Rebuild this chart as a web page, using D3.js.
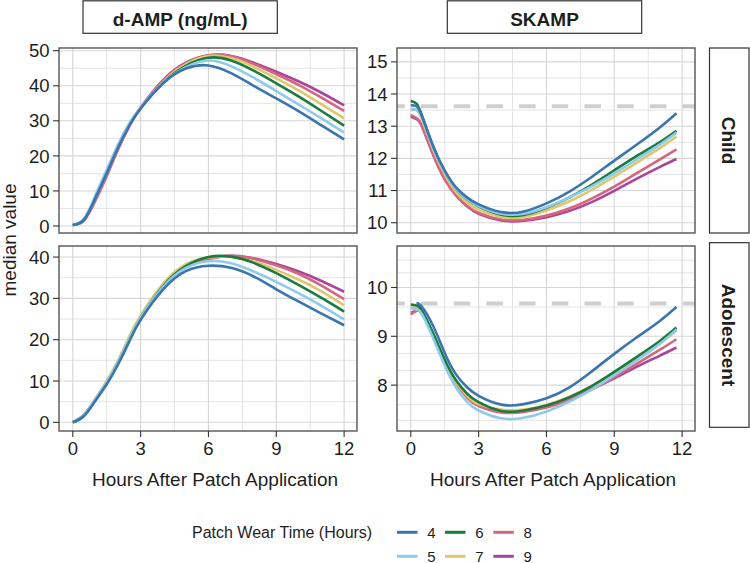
<!DOCTYPE html>
<html>
<head>
<meta charset="utf-8">
<script src="https://cdn.jsdelivr.net/npm/d3@7"></script>
<style>
  html, body { margin: 0; padding: 0; background: #ffffff; }
  svg { display: block; font-family: "Liberation Sans", Arial, Helvetica, sans-serif; }
</style>
</head>
<body>
<script>
// ---------------- DATA ----------------
const wearTimes = ["4", "5", "6", "7", "8", "9"];
const wearColors = ["#3b75af", "#8ecbea", "#1b7a3e", "#dfc76f", "#d6657e", "#a8469c"];

const hoursDamp  = [0, 0.5, 1, 1.5, 2, 2.5, 3, 4, 5, 6, 7, 8, 9, 10, 11, 12];
const hoursSkamp = [0, 0.25, 0.5, 1, 1.5, 2, 2.5, 3, 4, 5, 6, 7, 8, 9, 10, 11, 11.75];

const xTicks = [0, 3, 6, 9, 12];
const xMinor = [1.5, 4.5, 7.5, 10.5];

// d-AMP (ng/mL), Child
const dampChild4 = [0.3, 1.8, 8.0, 15.0, 22.3, 28.6, 33.5, 40.7, 44.9, 45.8, 43.6, 40.0, 36.4, 32.7, 28.7, 24.7];
const dampChild5 = [0.3, 2.1, 8.8, 16.0, 23.2, 29.3, 33.8, 40.8, 45.3, 47.2, 45.6, 42.3, 38.5, 34.6, 30.7, 26.7];
const dampChild6 = [0.3, 1.9, 8.2, 15.3, 22.6, 28.9, 33.6, 40.9, 45.7, 48.0, 47.2, 44.3, 40.7, 36.9, 32.8, 28.6];
const dampChild7 = [0.3, 1.9, 8.0, 15.0, 22.3, 28.8, 33.7, 41.2, 46.2, 48.5, 47.9, 45.4, 42.1, 38.6, 34.7, 30.7];
const dampChild8 = [0.3, 1.6, 7.2, 14.2, 21.8, 28.5, 33.7, 41.5, 46.4, 48.6, 48.4, 46.2, 43.3, 40.2, 36.6, 32.8];
const dampChild9 = [0.3, 1.7, 7.5, 14.6, 22.0, 28.6, 33.8, 41.7, 46.6, 48.7, 48.5, 46.6, 44.0, 41.2, 38.0, 34.4];

// d-AMP (ng/mL), Adolescent
const dampAdol4 = [0, 1.6, 5.2, 9.2, 14.0, 19.6, 24.8, 32.2, 36.6, 37.9, 37.4, 35.3, 32.2, 29.2, 26.3, 23.5];
const dampAdol5 = [0, 1.8, 5.6, 9.7, 14.6, 20.2, 25.3, 32.8, 37.4, 39.0, 38.5, 36.5, 34.0, 31.2, 28.2, 24.9];
const dampAdol6 = [0, 1.6, 5.4, 9.5, 14.4, 20.0, 25.2, 33.0, 37.8, 40.0, 40.1, 38.6, 36.1, 33.2, 30.1, 26.8];
const dampAdol7 = [0, 1.8, 5.7, 10.0, 15.0, 20.8, 25.9, 33.6, 38.3, 39.9, 40.0, 38.9, 36.9, 34.5, 31.7, 28.3];
const dampAdol8 = [0, 1.9, 5.6, 9.7, 14.6, 20.3, 25.5, 33.2, 38.0, 39.7, 40.3, 39.6, 38.0, 35.9, 33.1, 29.8];
const dampAdol9 = [0, 1.8, 5.5, 9.6, 14.5, 20.2, 25.4, 33.1, 37.9, 39.6, 40.3, 39.7, 38.3, 36.5, 34.2, 31.6];

// SKAMP, Child
const skampChild4 = [13.65, 13.62, 13.3, 12.35, 11.62, 11.1, 10.78, 10.57, 10.33, 10.35, 10.6, 10.96, 11.42, 11.93, 12.43, 12.95, 13.4];
const skampChild5 = [13.5, 13.52, 13.25, 12.3, 11.58, 11.05, 10.73, 10.52, 10.28, 10.28, 10.48, 10.78, 11.13, 11.53, 11.97, 12.42, 12.8];
const skampChild6 = [13.78, 13.7, 13.32, 12.35, 11.6, 11.05, 10.72, 10.5, 10.25, 10.24, 10.46, 10.78, 11.18, 11.63, 12.08, 12.5, 12.86];
const skampChild7 = [13.55, 13.5, 13.2, 12.25, 11.5, 10.95, 10.62, 10.4, 10.18, 10.18, 10.38, 10.66, 11.02, 11.43, 11.87, 12.31, 12.68];
const skampChild8 = [13.35, 13.25, 13.0, 12.1, 11.35, 10.85, 10.52, 10.3, 10.1, 10.09, 10.22, 10.44, 10.75, 11.12, 11.54, 11.96, 12.28];
const skampChild9 = [13.3, 13.22, 12.98, 12.1, 11.36, 10.85, 10.5, 10.28, 10.07, 10.06, 10.17, 10.36, 10.64, 10.99, 11.37, 11.73, 11.98];

// SKAMP, Adolescent
const skampAdol4 = [null, 9.68, 9.6, 9.2, 8.66, 8.22, 7.95, 7.78, 7.6, 7.61, 7.73, 7.95, 8.28, 8.64, 8.98, 9.31, 9.6];
const skampAdol5 = [9.58, 9.55, 9.45, 8.95, 8.4, 7.95, 7.65, 7.48, 7.32, 7.33, 7.46, 7.66, 7.91, 8.2, 8.51, 8.84, 9.14];
const skampAdol6 = [9.65, 9.63, 9.52, 9.05, 8.52, 8.1, 7.82, 7.65, 7.47, 7.48, 7.58, 7.75, 7.98, 8.27, 8.58, 8.9, 9.18];
const skampAdol7 = [9.6, 9.58, 9.48, 9.02, 8.48, 8.06, 7.78, 7.61, 7.5, 7.5, 7.6, 7.76, 7.98, 8.24, 8.53, 8.85, 9.12];
const skampAdol8 = [9.45, 9.52, 9.46, 9.0, 8.46, 8.03, 7.74, 7.57, 7.44, 7.45, 7.54, 7.7, 7.91, 8.16, 8.44, 8.72, 8.94];
const skampAdol9 = [9.48, 9.53, 9.48, 9.02, 8.5, 8.06, 7.76, 7.59, 7.46, 7.47, 7.56, 7.72, 7.92, 8.14, 8.38, 8.6, 8.77];

// axis ticks / gridline values
const yTicksDampChild = [0, 10, 20, 30, 40, 50];
const yMinorDampChild = [5, 15, 25, 35, 45];
const yTicksDampAdol  = [0, 10, 20, 30, 40];
const yMinorDampAdol  = [5, 15, 25, 35];
const yTicksSkampChild = [10, 11, 12, 13, 14, 15];
const yMinorSkampChild = [10.5, 11.5, 12.5, 13.5, 14.5];
const yTicksSkampAdol  = [8, 9, 10];
const yMinorSkampAdol  = [7.28, 7.6, 8.3, 8.65, 9.6, 10.3, 10.56];

// dashed reference (baseline) levels for SKAMP
const refSkampChild = 13.62;
const refSkampAdol = 9.67;

const colTitles = ["d-AMP (ng/mL)", "SKAMP"];
const rowTitles = ["Child", "Adolescent"];
const xTitle = "Hours After Patch Application";
const yTitle = "median value";
const legendTitle = "Patch Wear Time (Hours)";

// ---------------- LAYOUT ----------------
const W = 750, H = 563;
const svg = d3.select("body").append("svg").attr("width", W).attr("height", H);
svg.append("rect").attr("width", W).attr("height", H).attr("fill", "#ffffff");

const PW = 298, PH = 185;
const panels = [
  { id: "p1", x: 59,  y: 48,  yDomain: [-2.0, 50.77], yTicks: yTicksDampChild, yMinor: yMinorDampChild, times: hoursDamp,
    series: [dampChild4, dampChild5, dampChild6, dampChild7, dampChild8, dampChild9], ref: null, bottom: false },
  { id: "p2", x: 397, y: 48,  yDomain: [9.68, 15.43], yTicks: yTicksSkampChild, yMinor: yMinorSkampChild, times: hoursSkamp,
    series: [skampChild4, skampChild5, skampChild6, skampChild7, skampChild8, skampChild9], ref: refSkampChild, bottom: false },
  { id: "p3", x: 59,  y: 246, yDomain: [-2.1, 42.68], yTicks: yTicksDampAdol, yMinor: yMinorDampAdol, times: hoursDamp,
    series: [dampAdol4, dampAdol5, dampAdol6, dampAdol7, dampAdol8, dampAdol9], ref: null, bottom: true },
  { id: "p4", x: 397, y: 246, yDomain: [7.06, 10.85], yTicks: yTicksSkampAdol, yMinor: yMinorSkampAdol, times: hoursSkamp,
    series: [skampAdol4, skampAdol5, skampAdol6, skampAdol7, skampAdol8, skampAdol9], ref: refSkampAdol, bottom: true }
];

const tickFont = 18.5;
const textColor = "#1e1e1e";

panels.forEach(p => {
  const x = d3.scaleLinear().domain([-0.61, 12.57]).range([p.x, p.x + PW]);
  const y = d3.scaleLinear().domain(p.yDomain).range([p.y + PH, p.y]);
  const g = svg.append("g");

  g.append("clipPath").attr("id", "clip-" + p.id)
    .append("rect").attr("x", p.x).attr("y", p.y).attr("width", PW).attr("height", PH);

  g.append("rect").attr("x", p.x).attr("y", p.y).attr("width", PW).attr("height", PH).attr("fill", "#ffffff");

  // minor grid
  g.selectAll(".vmin").data(xMinor).join("line")
    .attr("x1", d => x(d)).attr("x2", d => x(d)).attr("y1", p.y).attr("y2", p.y + PH)
    .attr("stroke", "#e4e4e4").attr("stroke-width", 1);
  g.selectAll(".hmin").data(p.yMinor).join("line")
    .attr("x1", p.x).attr("x2", p.x + PW).attr("y1", d => y(d)).attr("y2", d => y(d))
    .attr("stroke", "#e4e4e4").attr("stroke-width", 1);
  // major grid
  g.selectAll(".vmaj").data(xTicks).join("line")
    .attr("x1", d => x(d)).attr("x2", d => x(d)).attr("y1", p.y).attr("y2", p.y + PH)
    .attr("stroke", "#d6d6d6").attr("stroke-width", 1.1);
  g.selectAll(".hmaj").data(p.yTicks).join("line")
    .attr("x1", p.x).attr("x2", p.x + PW).attr("y1", d => y(d)).attr("y2", d => y(d))
    .attr("stroke", "#d6d6d6").attr("stroke-width", 1.1);

  // dashed reference line
  if (p.ref != null) {
    g.append("line")
      .attr("x1", p.x).attr("x2", p.x + PW).attr("y1", y(p.ref)).attr("y2", y(p.ref))
      .attr("stroke", "#cfcfcf").attr("stroke-width", 4)
      .attr("stroke-dasharray", "16.5,16.2").attr("stroke-dashoffset", 8.7)
      .attr("clip-path", "url(#clip-" + p.id + ")");
  }

  // series lines (drawn 9 -> 4 so 4 ends on top)
  const line = d3.line()
    .defined(d => d[1] != null)
    .x(d => x(d[0])).y(d => y(d[1]))
    .curve(d3.curveNatural);
  const order = d3.range(p.series.length).reverse();
  const lg = g.append("g").attr("clip-path", "url(#clip-" + p.id + ")");
  order.forEach(i => {
    const pts = p.times.map((t, k) => [t, p.series[i][k]]);
    lg.append("path").attr("d", line(pts))
      .attr("fill", "none").attr("stroke", wearColors[i])
      .attr("stroke-width", 2.6).attr("stroke-linejoin", "round").attr("stroke-linecap", "butt");
  });

  // border
  g.append("rect").attr("x", p.x).attr("y", p.y).attr("width", PW).attr("height", PH)
    .attr("fill", "none").attr("stroke", "#555555").attr("stroke-width", 1.4);

  // y axis ticks + labels
  g.selectAll(".yt").data(p.yTicks).join("line")
    .attr("x1", p.x - 6).attr("x2", p.x).attr("y1", d => y(d)).attr("y2", d => y(d))
    .attr("stroke", "#333333").attr("stroke-width", 1.1);
  g.selectAll(".yl").data(p.yTicks).join("text")
    .attr("x", p.x - 9.5).attr("y", d => y(d)).attr("dy", "0.36em")
    .attr("text-anchor", "end").attr("font-size", tickFont).attr("fill", textColor)
    .text(d => d);

  // x axis on bottom row
  if (p.bottom) {
    g.selectAll(".xt").data(xTicks).join("line")
      .attr("x1", d => x(d)).attr("x2", d => x(d)).attr("y1", p.y + PH).attr("y2", p.y + PH + 6)
      .attr("stroke", "#333333").attr("stroke-width", 1.1);
    g.selectAll(".xl").data(xTicks).join("text")
      .attr("x", d => x(d)).attr("y", 455)
      .attr("text-anchor", "middle").attr("font-size", tickFont).attr("fill", textColor)
      .text(d => d);
    g.append("text").attr("x", p.x + PW / 2 + 7).attr("y", 486)
      .attr("text-anchor", "middle").attr("font-size", 19).attr("fill", textColor)
      .text(xTitle);
  }
});

// column strips
const colStrips = [{ x: 83, w: 194.3 }, { x: 447.3, w: 194.4 }];
colStrips.forEach((s, i) => {
  svg.append("rect").attr("x", s.x).attr("y", 0.8).attr("width", s.w).attr("height", 32.5)
    .attr("fill", "#ffffff").attr("stroke", "#333333").attr("stroke-width", 1.2);
  svg.append("text").attr("x", s.x + s.w / 2).attr("y", 26)
    .attr("text-anchor", "middle").attr("font-size", 19).attr("font-weight", "bold").attr("fill", textColor)
    .text(colTitles[i]);
});

// row strips
const rowStrips = [{ y: 48, h: 185 }, { y: 242.7, h: 184.6 }];
rowStrips.forEach((s, i) => {
  svg.append("rect").attr("x", 709.5).attr("y", s.y).attr("width", 39.5).attr("height", s.h)
    .attr("fill", "#ffffff").attr("stroke", "#333333").attr("stroke-width", 1.2);
  svg.append("text").attr("transform", `translate(722,${s.y + s.h / 2}) rotate(90)`)
    .attr("text-anchor", "middle").attr("font-size", 19).attr("font-weight", "bold").attr("fill", textColor)
    .text(rowTitles[i]);
});

// y axis title
svg.append("text").attr("transform", "translate(16,240) rotate(-90)")
  .attr("text-anchor", "middle").attr("font-size", 19).attr("fill", textColor)
  .text(yTitle);

// legend
svg.append("text").attr("x", 192).attr("y", 537.5)
  .attr("font-size", 16).attr("fill", textColor).text(legendTitle);
const legX = [397, 445, 493.3];
const legY = [532.3, 556.3];
wearTimes.forEach((w, i) => {
  const col = Math.floor(i / 2), row = i % 2;
  const lx = legX[col], ly = legY[row];
  svg.append("line").attr("x1", lx).attr("x2", lx + 20.5).attr("y1", ly).attr("y2", ly)
    .attr("stroke", wearColors[i]).attr("stroke-width", 3);
  svg.append("text").attr("x", lx + 30.3).attr("y", ly + 5.2)
    .attr("font-size", 15).attr("fill", textColor).text(w);
});
</script>
</body>
</html>
